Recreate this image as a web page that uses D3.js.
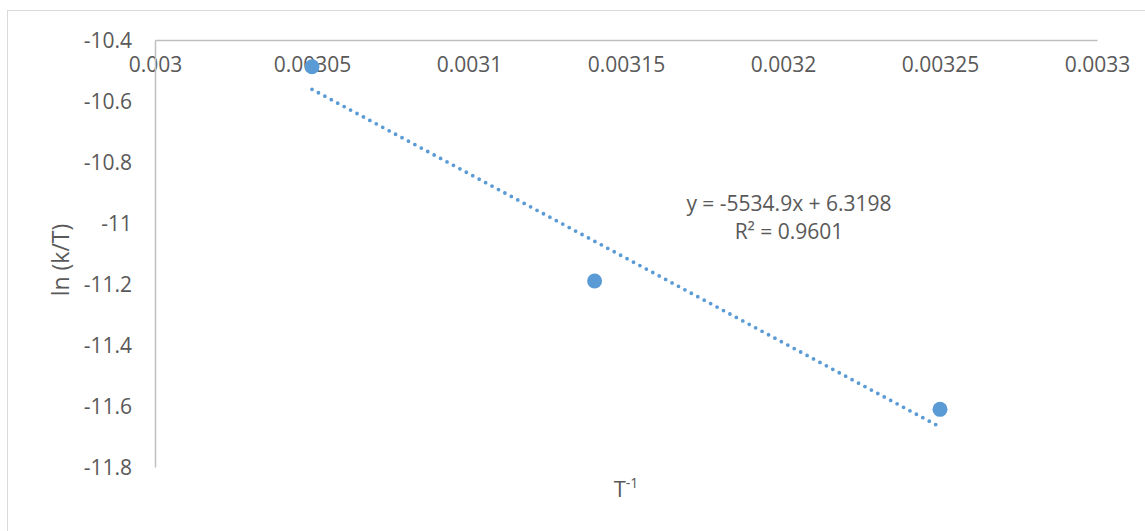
<!DOCTYPE html>
<html>
<head>
<meta charset="utf-8">
<script src="https://cdn.jsdelivr.net/npm/d3@7"></script>
<style>
  body { margin: 0; background: #fff; }
  text { font-family: "Open Sans", "Liberation Sans", sans-serif; fill: #595959; }
</style>
</head>
<body>
<div id="chart"></div>
<script>
// data
const invT = [0.00305, 0.00314, 0.00325]
const lnKT = [-10.4875, -11.19, -11.611]
const xTicks = [0.003, 0.00305, 0.0031, 0.00315, 0.0032, 0.00325, 0.0033]
const yTicks = [-10.4, -10.6, -10.8, -11, -11.2, -11.4, -11.6, -11.8]
const trendSlope = -5534.9
const trendIntercept = 6.3198
const trendLabel = ["y = -5534.9x + 6.3198", "R² = 0.9601"]

const W = 1145, H = 531
const margin = { top: 40, right: 48, bottom: 64, left: 155 }
const color = "#5b9bd5"

const svg = d3.select("#chart").append("svg")
  .attr("width", W)
  .attr("height", H)

// outer chart border
svg.append("rect")
  .attr("x", 7.5).attr("y", 10.5)
  .attr("width", W).attr("height", H)
  .attr("fill", "none")
  .attr("stroke", "#d9d9d9")

const x = d3.scaleLinear().domain([0.003, 0.0033]).range([margin.left, W - margin.right])
const y = d3.scaleLinear().domain([-10.4, -11.8]).range([margin.top, H - margin.bottom])

// x axis sits at the top (y = -10.4)
const xAxis = svg.append("g")
  .attr("transform", "translate(0," + y(-10.4) + ")")
  .call(d3.axisBottom(x).tickValues(xTicks).tickSize(0).tickPadding(17).tickFormat(d => String(+d.toFixed(5))))
xAxis.select(".domain").attr("stroke", "#bfbfbf").attr("stroke-width", 1.5)
xAxis.selectAll("text").attr("font-size", 21).attr("fill", "#595959")

const yAxis = svg.append("g")
  .attr("transform", "translate(" + x(0.003) + ",0)")
  .call(d3.axisLeft(y).tickValues(yTicks).tickSize(0).tickPadding(23).tickFormat(d => String(d)))
yAxis.select(".domain").attr("stroke", "#bfbfbf").attr("stroke-width", 1.5)
yAxis.selectAll("text").attr("font-size", 21).attr("fill", "#595959")
yAxis.selectAll("text").attr("dy", "0.36em")

// trendline
const xr = d3.extent(invT)
const line = d3.line().x(d => x(d)).y(d => y(trendSlope * d + trendIntercept))
svg.append("path")
  .datum(xr)
  .attr("d", line)
  .attr("fill", "none")
  .attr("stroke", color)
  .attr("stroke-width", 3.8)
  .attr("stroke-linecap", "round")
  .attr("stroke-dasharray", "0 7.3")

// points
svg.selectAll(".pt")
  .data(invT.map((d, i) => [d, lnKT[i]]))
  .join("circle")
  .attr("class", "pt")
  .attr("cx", d => x(d[0]))
  .attr("cy", d => y(d[1]))
  .attr("r", 7.5)
  .attr("fill", color)

// trendline label
svg.append("text")
  .attr("x", 789).attr("y", 211)
  .attr("text-anchor", "middle")
  .attr("font-size", 21)
  .selectAll("tspan")
  .data(trendLabel)
  .join("tspan")
  .attr("x", 789)
  .attr("dy", (d, i) => i === 0 ? 0 : 28)
  .text(d => d)

// axis titles
const xt = svg.append("text")
  .attr("x", (x.range()[0] + x.range()[1]) / 2)
  .attr("y", 497)
  .attr("text-anchor", "middle")
  .attr("font-size", 22)
xt.append("tspan").text("T")
xt.append("tspan").attr("font-size", 14).attr("dy", -9).text("-1")

svg.append("text")
  .attr("transform", "translate(69,260) rotate(-90)")
  .attr("text-anchor", "middle")
  .attr("font-size", 23)
  .text("ln (k/T)")
</script>
</body>
</html>
